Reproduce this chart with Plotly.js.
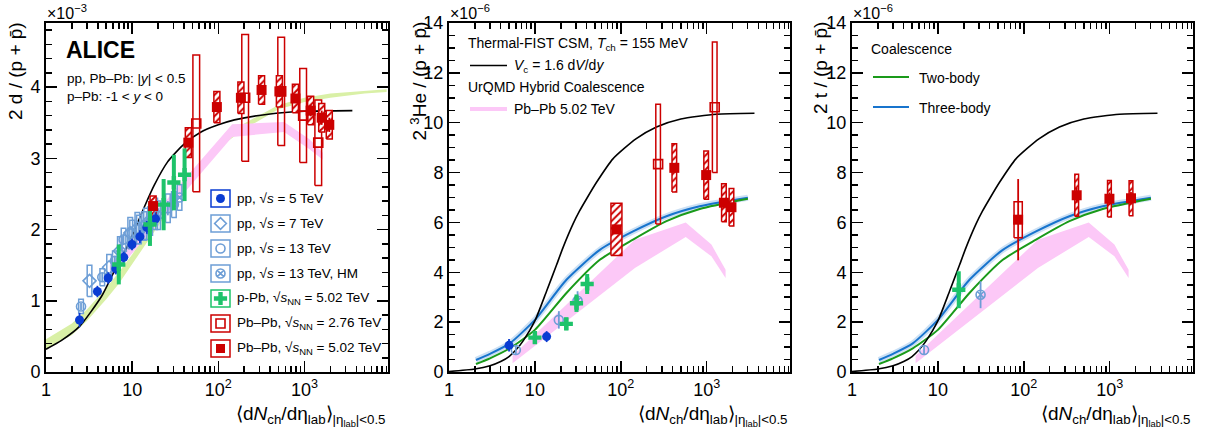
<!DOCTYPE html>
<html><head><meta charset="utf-8">
<script src="https://cdn.plot.ly/plotly-3.0.1.min.js"></script>
<style>html,body{margin:0;padding:0;background:#fff}#plot{width:1209px;height:434px}</style>
</head><body><div id="plot"></div><script>
const W = 1209, H = 434;
const FONT = 'Liberation Sans, Arial, sans-serif';
const RED = '#cc0000', BLUE = '#0a3cd2', LBLUE = '#6d9ed6', GREEN = '#1ec36a',
      PINK = '#fcc8f7', LGREEN = '#d9f0a6', G2 = '#1a9a1a', B3 = '#1874cd';

// ---------- tick labels ----------
const xTickVals = [1, 10, 100, 1000];
const xTickText = ['1', '10', '10<sup>2</sup>', '10<sup>3</sup>'];

// ---------- Left panel: 2d/(p+pbar) x1e-3 ----------
const d_pp5_x = [2.45, 3.95, 5.27, 6.47, 8.0, 9.96, 12.3, 14.8, 18.7];
const d_pp5_y = [0.73, 1.13, 1.32, 1.45, 1.61, 1.79, 1.90, 2.03, 2.15];
const d_pp5_e = [0.10, 0.08, 0.08, 0.08, 0.08, 0.08, 0.09, 0.09, 0.09];

const d_pp7_x = [3.2, 5.4, 7.2, 9.5, 11.5, 14.5, 18.5];
const d_pp7_y = [1.28, 1.47, 1.70, 1.95, 2.02, 2.08, 2.22];
const d_pp7_s = [0.22, 0.18, 0.20, 0.22, 0.22, 0.22, 0.22];

const d_pp13_x = [2.55, 4.5, 6.3, 7.95, 10.0, 12.0, 13.8, 16.2, 20.0, 26.0];
const d_pp13_y = [0.92, 1.33, 1.56, 1.86, 1.95, 2.00, 2.05, 2.12, 2.20, 2.30];
const d_pp13_s = [0.10, 0.12, 0.14, 0.16, 0.18, 0.20, 0.20, 0.20, 0.20, 0.20];

const d_hm_x = [30.5, 35.5];
const d_hm_y = [2.35, 2.45];
const d_hm_s = [0.18, 0.18];

const d_pPb_x = [7.0, 16.1, 23.2, 30.5, 40.6];
const d_pPb_y = [1.51, 2.07, 2.35, 2.66, 2.77];
const d_pPb_e = [0.28, 0.30, 0.36, 0.39, 0.37];

const d_PbPb276_x = [55.5, 205, 537, 966, 1447];
const d_PbPb276_y = [3.49, 3.85, 3.94, 3.60, 3.22];
const d_PbPb276_s = [0.96, 0.89, 0.76, 0.66, 0.60];

const d_PbPb502_x = [17.5, 44.9, 96.3, 183, 318, 512, 786, 1180, 1587, 1943];
const d_PbPb502_y = [2.33, 3.22, 3.72, 3.85, 3.96, 3.94, 3.84, 3.67, 3.57, 3.47];
const d_PbPb502_s = [0.14, 0.21, 0.22, 0.22, 0.20, 0.22, 0.20, 0.20, 0.20, 0.20];
const d_PbPb502_e = [0.05, 0.05, 0.05, 0.05, 0.05, 0.08, 0.06, 0.08, 0.10, 0.10];

const d_csm_x = [1, 1.5, 2.45, 4.4, 6, 8, 10.3, 14, 18, 25.8, 40, 63, 100, 154, 380, 1000, 3600];
const d_csm_y = [0.32, 0.44, 0.64, 1.06, 1.38, 1.66, 1.95, 2.33, 2.62, 2.95, 3.20, 3.37, 3.47, 3.54, 3.62, 3.66, 3.67];

const d_coal_x  = [1, 2, 3, 5, 7, 10, 15, 20, 30, 50, 100, 200, 500, 1000, 2000, 5000, 9000];
const d_coal_hi = [0.46, 0.68, 0.88, 1.18, 1.40, 1.65, 1.97, 2.19, 2.48, 2.83, 3.22, 3.49, 3.75, 3.85, 3.91, 3.95, 3.97];
const d_coal_lo = [0.32, 0.52, 0.72, 1.02, 1.24, 1.51, 1.83, 2.05, 2.36, 2.73, 3.14, 3.41, 3.69, 3.79, 3.85, 3.91, 3.93];

const d_urqmd_x  = [5.5, 145, 580, 1135, 1633];
const d_urqmd_hi = [1.50, 3.48, 3.51, 3.27, 3.08];
const d_urqmd_lo = [1.30, 3.30, 3.37, 3.13, 2.98];

// ---------- Middle panel: 2 3He/(p+pbar) x1e-6 ----------
const he_pp5_x = [5.0, 13.7];
const he_pp5_y = [1.07, 1.42];
const he_pp5_e = [0.25, 0.22];

const he_pp13_x = [6.0, 19.0];
const he_pp13_y = [0.88, 2.09];
const he_pp13_e = [0.2, 0.35];

const he_hm_x = [31.4];
const he_hm_y = [2.86];
const he_hm_e = [0.38];

const he_pPb_x = [10.0, 23.2, 30.5, 40.6];
const he_pPb_y = [1.38, 1.93, 2.76, 3.53];
const he_pPb_e = [0.25, 0.25, 0.35, 0.40];

const he_PbPb276_x = [272, 1240];
const he_PbPb276_y = [8.34, 10.62];
const he_PbPb276_s = [2.40, 2.62];

const he_PbPb502_x = [89, 420, 986, 1587, 1943];
const he_PbPb502_y = [5.72, 8.19, 7.90, 6.79, 6.61];
const he_PbPb502_s = [1.05, 0.97, 0.97, 0.76, 0.75];

// ---------- Right panel: 2t/(p+pbar) x1e-6 ----------
const t_pp13_x = [6.9];
const t_pp13_y = [0.88];
const t_pp13_e = [0.18];

const t_pPb_x = [17.5];
const t_pPb_y = [3.30];
const t_pPb_e = [0.74];

const t_hm_x = [31.4];
const t_hm_y = [3.10];
const t_hm_e = [0.54];

const t_PbPb502_x = [86, 413, 993, 1770];
const t_PbPb502_y = [6.11, 7.09, 6.95, 6.97];
const t_PbPb502_s = [0.72, 0.84, 0.73, 0.70];
const t_PbPb502_e = [1.63, 0.30, 0.25, 0.25];

// ---------- Models A=3 ----------
const a3_csm_x = [1, 2, 3, 4, 5, 6, 7.3, 10, 13.7, 17.9, 21.3, 27.9, 33, 40, 52, 81, 150, 260, 500, 1300, 3600];
const a3_csm_y = [0.02, 0.12, 0.25, 0.42, 0.62, 0.88, 1.25, 2.05, 3.25, 4.30, 5.00, 5.95, 6.45, 6.95, 7.60, 8.55, 9.35, 9.83, 10.15, 10.34, 10.38];

const a3_coal_x  = [2.06, 3, 5.1, 10, 23.3, 57, 139, 340, 830, 3020];
const a3_two_y   = [0.32, 0.55, 0.95, 1.69, 3.17, 4.50, 5.31, 6.05, 6.54, 6.95];
const a3_three_y = [0.48, 0.73, 1.15, 2.09, 3.70, 4.90, 5.64, 6.25, 6.65, 6.99];

const a3_urqmd_x  = [5.5, 146, 570, 1135, 1660];
const a3_urqmd_hi = [0.65, 5.31, 6.00, 5.11, 4.10];
const a3_urqmd_lo = [0.35, 4.17, 5.42, 4.64, 3.77];

// ---------- helpers ----------
function boxes(xs, ys, es, hw) {
  const X = [], Y = [], f = Math.pow(10, hw);
  xs.forEach((x, i) => {
    const y = ys[i], e = es[i], a = x / f, b = x * f;
    X.push(a, b, b, a, a, null); Y.push(y - e, y - e, y + e, y + e, y - e, null);
  });
  return {X, Y};
}
function sysTrace(ax, xs, ys, es, hw, color, pattern, lw) {
  const b = boxes(xs, ys, es, hw);
  const t = {type: 'scatter', mode: 'lines', x: b.X, y: b.Y, xaxis: ax[0], yaxis: ax[1],
    line: {color: color, width: lw || 1.5}, hoverinfo: 'skip', showlegend: false};
  if (pattern) {
    t.fill = 'toself'; t.fillcolor = 'white';
    t.fillpattern = {shape: '/', fgcolor: color, bgcolor: 'white', size: 5, solidity: 0.4};
  }
  return t;
}
function bandTrace(ax, xs, lo, hi, color) {
  return {type: 'scatter', mode: 'lines', x: xs.concat(xs.slice().reverse()),
    y: hi.concat(lo.slice().reverse()), fill: 'toself', fillcolor: color,
    line: {width: 0, color: color}, xaxis: ax[0], yaxis: ax[1], hoverinfo: 'skip', showlegend: false};
}
function lineTrace(ax, xs, ys, color, width) {
  return {type: 'scatter', mode: 'lines', x: xs, y: ys, xaxis: ax[0], yaxis: ax[1],
    line: {color: color, width: width, shape: 'spline', smoothing: 0.6}, hoverinfo: 'skip', showlegend: false};
}
function ptTrace(ax, xs, ys, es, symbol, color, size, thick) {
  const open = symbol.indexOf('open') >= 0;
  const t = {type: 'scatter', mode: 'markers', x: xs, y: ys, xaxis: ax[0], yaxis: ax[1],
    marker: {symbol: symbol, size: size, color: color,
      line: {color: color, width: open ? 1.6 : 0}},
    hoverinfo: 'skip', showlegend: false};
  if (es) t.error_y = {type: 'data', array: es, visible: true, color: color, thickness: thick || 1.8, width: 0};
  return t;
}

const L = ['x', 'y'], M = ['x2', 'y2'], R = ['x3', 'y3'];
const traces = [];
// left
traces.push(bandTrace(L, d_coal_x, d_coal_lo, d_coal_hi, LGREEN));
traces.push(bandTrace(L, d_urqmd_x, d_urqmd_lo, d_urqmd_hi, PINK));
traces.push(lineTrace(L, d_csm_x, d_csm_y, 'black', 1.6));
traces.push(sysTrace(L, d_pp7_x, d_pp7_y, d_pp7_s, 0.027, LBLUE, false, 1.5));
traces.push(sysTrace(L, d_pp13_x, d_pp13_y, d_pp13_s, 0.027, LBLUE, false, 1.5));
traces.push(sysTrace(L, d_hm_x, d_hm_y, d_hm_s, 0.027, LBLUE, false, 1.5));
traces.push(sysTrace(L, d_PbPb276_x, d_PbPb276_y, d_PbPb276_s, 0.039, RED, false, 1.5));
traces.push(sysTrace(L, d_PbPb502_x, d_PbPb502_y, d_PbPb502_s, 0.035, RED, true, 1.5));
traces.push(ptTrace(L, d_pp7_x, d_pp7_y, null, 'diamond-open', LBLUE, 10));
traces.push(ptTrace(L, d_pp13_x, d_pp13_y, d_pp13_s.map(v => v * 0.5), 'circle-open', LBLUE, 9));
traces.push(ptTrace(L, d_hm_x, d_hm_y, null, 'circle-x-open', LBLUE, 9));
traces.push(ptTrace(L, d_pp5_x, d_pp5_y, d_pp5_e, 'circle', BLUE, 9));
traces.push(ptTrace(L, d_pPb_x, d_pPb_y, d_pPb_e, 'cross', GREEN, 11, 4));
traces.push(ptTrace(L, d_PbPb276_x, d_PbPb276_y, null, 'square-open', RED, 9));
traces.push(ptTrace(L, d_PbPb502_x, d_PbPb502_y, d_PbPb502_e, 'square', RED, 10));
// middle
traces.push(bandTrace(M, a3_urqmd_x, a3_urqmd_lo, a3_urqmd_hi, PINK));
traces.push(lineTrace(M, a3_coal_x, a3_three_y, 'rgba(24,116,205,0.22)', 6));
traces.push(lineTrace(M, a3_coal_x, a3_three_y, B3, 2));
traces.push(lineTrace(M, a3_coal_x, a3_two_y, G2, 2));
traces.push(lineTrace(M, a3_csm_x, a3_csm_y, 'black', 1.6));
traces.push(sysTrace(M, he_PbPb276_x, he_PbPb276_y, he_PbPb276_s, 0.027, RED, false, 1.5));
traces.push(sysTrace(M, [he_PbPb502_x[0]], [he_PbPb502_y[0]], [he_PbPb502_s[0]], 0.064, RED, true, 1.5));
traces.push(sysTrace(M, he_PbPb502_x.slice(1), he_PbPb502_y.slice(1), he_PbPb502_s.slice(1), 0.027, RED, true, 1.5));
traces.push(ptTrace(M, he_pp13_x, he_pp13_y, he_pp13_e, 'circle-open', LBLUE, 9));
traces.push(ptTrace(M, he_hm_x, he_hm_y, he_hm_e, 'circle-x-open', LBLUE, 9));
traces.push(ptTrace(M, he_pp5_x, he_pp5_y, he_pp5_e, 'circle', BLUE, 9));
traces.push(ptTrace(M, he_pPb_x, he_pPb_y, he_pPb_e, 'cross', GREEN, 11, 4));
traces.push(ptTrace(M, he_PbPb276_x, he_PbPb276_y, null, 'square-open', RED, 9));
traces.push(ptTrace(M, he_PbPb502_x, he_PbPb502_y, null, 'square', RED, 10));
// right
traces.push(bandTrace(R, a3_urqmd_x, a3_urqmd_lo, a3_urqmd_hi, PINK));
traces.push(lineTrace(R, a3_coal_x, a3_three_y, 'rgba(24,116,205,0.22)', 6));
traces.push(lineTrace(R, a3_coal_x, a3_three_y, B3, 2));
traces.push(lineTrace(R, a3_coal_x, a3_two_y, G2, 2));
traces.push(lineTrace(R, a3_csm_x, a3_csm_y, 'black', 1.6));
traces.push(sysTrace(R, [t_PbPb502_x[0]], [t_PbPb502_y[0]], [t_PbPb502_s[0]], 0.048, RED, false, 1.5));
traces.push(sysTrace(R, t_PbPb502_x.slice(1), t_PbPb502_y.slice(1), t_PbPb502_s.slice(1), 0.022, RED, true, 1.5));
traces.push(ptTrace(R, t_pp13_x, t_pp13_y, t_pp13_e, 'circle-open', LBLUE, 9));
traces.push(ptTrace(R, t_hm_x, t_hm_y, t_hm_e, 'circle-x-open', LBLUE, 9));
traces.push(ptTrace(R, t_pPb_x, t_pPb_y, t_pPb_e, 'cross', GREEN, 11, 4));
traces.push(ptTrace(R, t_PbPb502_x, t_PbPb502_y, t_PbPb502_e, 'square', RED, 10));

// ---------- legend (left panel) ----------
const legRows = [
  {sym: 'circle', color: BLUE, text: 'pp, √<i>s</i> = 5 TeV'},
  {sym: 'diamond-open', color: LBLUE, text: 'pp, √<i>s</i> = 7 TeV'},
  {sym: 'circle-open', color: LBLUE, text: 'pp, √<i>s</i> = 13 TeV'},
  {sym: 'circle-x-open', color: LBLUE, text: 'pp, √<i>s</i> = 13 TeV, HM'},
  {sym: 'cross', color: GREEN, text: 'p-Pb, √<i>s</i><sub>NN</sub> = 5.02 TeV'},
  {sym: 'square-open', color: RED, text: 'Pb–Pb, √<i>s</i><sub>NN</sub> = 2.76 TeV'},
  {sym: 'square', color: RED, text: 'Pb–Pb, √<i>s</i><sub>NN</sub> = 5.02 TeV'}
];
const shapes = [], annotations = [];
function ann(text, x, y, o) {
  annotations.push(Object.assign({text: text, x: x / W, y: 1 - y / H, xref: 'paper', yref: 'paper',
    showarrow: false, xanchor: 'left', yanchor: 'middle', font: {family: FONT, size: 14, color: 'black'}}, o || {}));
}
function pline(x0, x1, y, color, width) {
  shapes.push({type: 'line', xref: 'paper', yref: 'paper', x0: x0 / W, x1: x1 / W, y0: 1 - y / H, y1: 1 - y / H,
    line: {color: color, width: width}});
}
legRows.forEach((r, i) => {
  const yc = 198.5 + 25 * i;
  shapes.push({type: 'rect', xref: 'paper', yref: 'paper', x0: 211 / W, x1: 230 / W, y0: 1 - (yc - 8.5) / H, y1: 1 - (yc + 8.5) / H,
    line: {color: r.color, width: 1.5}, fillcolor: 'rgba(0,0,0,0)'});
  const open = r.sym.indexOf('open') >= 0;
  traces.push({type: 'scatter', mode: 'markers', x: [220.5], y: [yc], xaxis: 'x4', yaxis: 'y4',
    marker: {symbol: r.sym, size: r.sym === 'cross' ? 11 : 9, color: r.color,
      line: {color: r.color, width: open ? 1.6 : 0}}, hoverinfo: 'skip', showlegend: false});
  ann(r.text, 235, yc, {font: {family: FONT, size: 13.5, color: 'black'}});
});

// panel texts
ann('<b>ALICE</b>', 64, 50, {font: {family: FONT, size: 23, color: 'black'}});
ann('pp, Pb–Pb: |<i>y</i>| &lt; 0.5', 65, 78, {font: {family: FONT, size: 13.5, color: 'black'}});
ann('p–Pb: -1 &lt; <i>y</i> &lt; 0', 65, 97, {font: {family: FONT, size: 13.5, color: 'black'}});

ann('Thermal-FIST CSM, <i>T</i><sub>ch</sub> = 155 MeV', 466, 44);
pline(470, 507, 65.5, 'black', 1.6);
ann('<i>V</i><sub>c</sub> = 1.6 d<i>V</i>/d<i>y</i>', 512, 65.5);
ann('UrQMD Hybrid Coalescence', 466, 87);
pline(470, 507, 109, PINK, 4);
ann('Pb–Pb 5.02 TeV', 512, 109);

ann('Coalescence', 869, 49);
pline(873, 909, 77, G2, 2);
ann('Two-body', 917, 78);
pline(873, 909, 107, B3, 2);
ann('Three-body', 917, 108);

// exponents
ann('×10<sup>−3</sup>', 45, 12, {font: {family: FONT, size: 16, color: 'black'}});
ann('×10<sup>−6</sup>', 448, 12, {font: {family: FONT, size: 16, color: 'black'}});
ann('×10<sup>−6</sup>', 851, 12, {font: {family: FONT, size: 16, color: 'black'}});

// axis titles
const yT = {font: {family: FONT, size: 19, color: 'black'}, textangle: -90, xanchor: 'center', yanchor: 'top'};
ann('2 d / (p + p\u0304)', 15, 20, yT);
ann('2 <sup>3</sup>He / (p + p\u0304)', 418, 20, yT);
ann('2 t / (p + p\u0304)', 820, 20, yT);
const xTitle = '⟨d<i>N</i><sub>ch</sub>/dη<sub>lab</sub>⟩<sub>|η<sub>lab</sub>|&lt;0.5</sub>';
[388, 790, 1193].forEach(xr => ann(xTitle, xr, 416, {xanchor: 'right', font: {family: FONT, size: 19, color: 'black'}}));

// ---------- axes ----------
const xMinor = [];
for (let k = 0; k < 4; k++) for (let d = 2; d <= 9; d++) xMinor.push(d * Math.pow(10, k));
function xa(p0, p1, anchor) {
  return {type: 'log', range: [0, 3.97], domain: [p0 / W, p1 / W], anchor: anchor,
    showline: true, linecolor: 'black', linewidth: 2, mirror: 'allticks',
    ticks: 'inside', ticklen: 11, tickwidth: 1.5, tickcolor: 'black',
    tickmode: 'array', tickvals: xTickVals, ticktext: xTickText,
    tickfont: {family: FONT, size: 18, color: 'black'},
    minor: {tickmode: 'array', tickvals: xMinor, ticks: 'inside', ticklen: 6, tickwidth: 1.5, tickcolor: 'black'},
    showgrid: false, zeroline: false, fixedrange: true};
}
function ya(range, dtick, mdt, anchor) {
  return {range: range, domain: [1 - 372 / H, 1 - 23 / H], anchor: anchor,
    showline: true, linecolor: 'black', linewidth: 2, mirror: 'allticks',
    ticks: 'inside', ticklen: 11, tickwidth: 1.5, tickcolor: 'black',
    tickmode: 'linear', tick0: 0, dtick: dtick,
    tickfont: {family: FONT, size: 18, color: 'black'},
    minor: {dtick: mdt, tick0: 0, ticks: 'inside', ticklen: 6, tickwidth: 1.5, tickcolor: 'black'},
    showgrid: false, zeroline: false, fixedrange: true};
}
const layout = {
  width: W, height: H, margin: {l: 0, r: 0, t: 0, b: 0}, paper_bgcolor: 'white', plot_bgcolor: 'rgba(0,0,0,0)',
  showlegend: false, font: {family: FONT, color: 'black'},
  xaxis: xa(46, 388, 'y'), yaxis: ya([0, 4.9], 1, 0.2, 'x'),
  xaxis2: xa(449, 790, 'y2'), yaxis2: ya([0, 14], 2, 0.5, 'x2'),
  xaxis3: xa(852, 1193, 'y3'), yaxis3: ya([0, 14], 2, 0.5, 'x3'),
  xaxis4: {domain: [0, 1], range: [0, W], visible: false, fixedrange: true, anchor: 'y4'},
  yaxis4: {domain: [0, 1], range: [H, 0], visible: false, fixedrange: true, anchor: 'x4'},
  shapes: shapes, annotations: annotations
};
Plotly.newPlot('plot', traces, layout, {staticPlot: true, displayModeBar: false});
</script></body></html>
